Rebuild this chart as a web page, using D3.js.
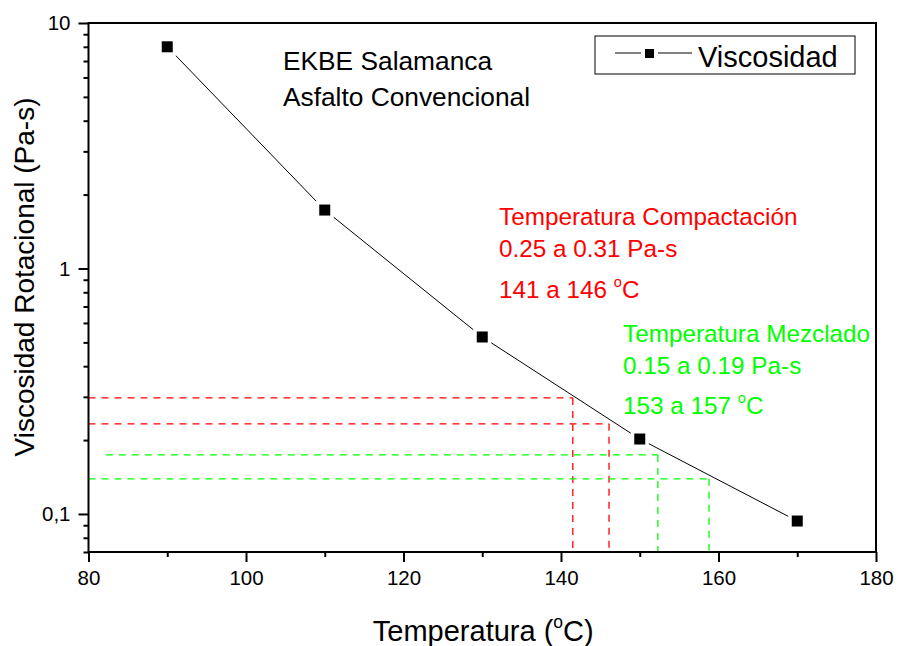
<!DOCTYPE html>
<html>
<head>
<meta charset="utf-8">
<script src="https://cdn.jsdelivr.net/npm/d3@7"></script>
<style>
  body { margin: 0; background: #fff; }
  svg text { font-family: "Liberation Sans", Arial, sans-serif; }
  .axis path { display: none; }
  .axis line { stroke: #000; stroke-width: 2; }
  .axis text { font-size: 20.5px; fill: #000; }
</style>
</head>
<body>
<div id="chart"></div>
<script>
// data
const temps = [90, 110, 130, 150, 170];
const visc = [8.0, 1.73, 0.526, 0.202, 0.0936];

// dashed guide lines (compaction = red, mixing = green)
const compactVisc = [0.297, 0.233];
const compactTemp = [141.5, 146.1];
const compactStart = [80, 80];
const mixVisc = [0.174, 0.139];
const mixTemp = [152.3, 158.8];
const mixStart = [82.2, 80];

const xMajor = [80, 100, 120, 140, 160, 180];
const xMinor = [90, 110, 130, 150, 170];
const yMajor = [10, 1, 0.1];
const yMajorLabels = ["10", "1", "0,1"];

const W = 898, H = 646;
const margin = {top: 23, right: 22, bottom: 94, left: 88.5};
const width = W - margin.left - margin.right;
const height = H - margin.top - margin.bottom;

const svg = d3.select("#chart").append("svg")
    .attr("width", W)
    .attr("height", H);

const g = svg.append("g")
    .attr("transform", "translate(" + margin.left + "," + margin.top + ")");

const x = d3.scaleLinear().domain([80, 180]).range([0, width]);
const y = d3.scaleLog().domain([0.07, 10]).range([height, 0]);

// minor y ticks 2..9 of every decade
let yMinor = [];
[0.01, 0.1, 1].forEach(function(dec) {
    for (let k = 2; k <= 9; k++) {
        let v = +(k * dec).toPrecision(3);
        if (v >= 0.07 && v <= 10) yMinor.push(v);
    }
});

// axes
g.append("g").attr("class", "axis")
    .attr("transform", "translate(0," + height + ")")
    .call(d3.axisBottom(x).tickValues(xMinor).tickSize(5).tickFormat(""));
g.append("g").attr("class", "axis")
    .attr("transform", "translate(0," + height + ")")
    .call(d3.axisBottom(x).tickValues(xMajor).tickSize(10).tickPadding(8).tickFormat(d3.format("d")));

g.append("g").attr("class", "axis")
    .call(d3.axisLeft(y).tickValues(yMinor).tickSize(5).tickFormat(""));
g.append("g").attr("class", "axis")
    .call(d3.axisLeft(y).tickValues(yMajor).tickSize(10).tickPadding(8)
        .tickFormat(function(d, i) { return yMajorLabels[i]; }));

// guide lines
function guides(vs, ts, starts, color) {
    vs.forEach(function(v, i) {
        g.append("line")
            .attr("x1", x(starts[i])).attr("x2", x(ts[i]))
            .attr("y1", y(v)).attr("y2", y(v))
            .attr("stroke", color).attr("stroke-width", 1.3)
            .attr("stroke-dasharray", "7,6");
        g.append("line")
            .attr("x1", x(ts[i])).attr("x2", x(ts[i]))
            .attr("y1", y(v)).attr("y2", height)
            .attr("stroke", color).attr("stroke-width", 1.3)
            .attr("stroke-dasharray", "7,6");
    });
}
guides(compactVisc, compactTemp, compactStart, "#ff0000");
guides(mixVisc, mixTemp, mixStart, "#00ff00");

// data line
const pts = temps.map(function(t, i) { return {t: t, v: visc[i]}; });
g.append("path")
    .datum(pts)
    .attr("fill", "none")
    .attr("stroke", "#000")
    .attr("stroke-width", 1)
    .attr("d", d3.line().x(function(d) { return x(d.t); }).y(function(d) { return y(d.v); }));

// white halo gives the gap between line and marker
g.selectAll(".halo").data(pts).enter().append("rect")
    .attr("class", "halo")
    .attr("x", function(d) { return x(d.t) - 9; })
    .attr("y", function(d) { return y(d.v) - 9; })
    .attr("width", 18).attr("height", 18)
    .attr("fill", "#fff");
g.selectAll(".mark").data(pts).enter().append("rect")
    .attr("class", "mark")
    .attr("x", function(d) { return x(d.t) - 5.5; })
    .attr("y", function(d) { return y(d.v) - 5.5; })
    .attr("width", 11).attr("height", 11)
    .attr("fill", "#000");

// frame
g.append("rect")
    .attr("width", width).attr("height", height)
    .attr("fill", "none").attr("stroke", "#000").attr("stroke-width", 2);

// legend
const leg = svg.append("g").attr("transform", "translate(595,36)");
leg.append("rect").attr("width", 260).attr("height", 38)
    .attr("fill", "#fff").attr("stroke", "#000").attr("stroke-width", 1);
leg.append("line").attr("x1", 20).attr("x2", 97).attr("y1", 17).attr("y2", 17)
    .attr("stroke", "#000").attr("stroke-width", 1);
leg.append("rect").attr("x", 46).attr("y", 10).attr("width", 17).attr("height", 14).attr("fill", "#fff");
leg.append("rect").attr("x", 50).attr("y", 13).attr("width", 9).attr("height", 9).attr("fill", "#000");
leg.append("text").attr("x", 103).attr("y", 31)
    .style("font-size", "29px").text("Viscosidad");

// annotations
svg.append("text").attr("x", 283).attr("y", 70).style("font-size", "26.3px").text("EKBE Salamanca");
svg.append("text").attr("x", 283).attr("y", 106).style("font-size", "26.3px").text("Asfalto Convencional");

function note(x0, ys, lines, color) {
    lines.forEach(function(s, i) {
        let t = svg.append("text").attr("x", x0).attr("y", ys[i])
            .attr("fill", color).style("font-size", "24.3px");
        if (s.indexOf("°") >= 0) {
            let parts = s.split("°");
            t.append("tspan").text(parts[0]);
            t.append("tspan").attr("dy", -11).style("font-size", "14.5px").text("o");
            t.append("tspan").attr("dy", 11).text(parts[1]);
        } else {
            t.text(s);
        }
    });
}
note(499, [225, 257, 298], ["Temperatura Compactación", "0.25 a 0.31 Pa-s", "141 a 146 °C"], "#ff0000");
note(623, [342, 374, 414], ["Temperatura Mezclado", "0.15 a 0.19 Pa-s", "153 a 157 °C"], "#00ff00");

// axis titles
const xt = svg.append("text")
    .attr("x", margin.left + width / 2 + 1).attr("y", 641)
    .attr("text-anchor", "middle").style("font-size", "29px");
xt.append("tspan").text("Temperatura (");
xt.append("tspan").attr("dy", -13).style("font-size", "17.5px").text("o");
xt.append("tspan").attr("dy", 13).text("C)");

svg.append("text")
    .attr("transform", "translate(34,277) rotate(-90)")
    .attr("text-anchor", "middle").style("font-size", "28px")
    .text("Viscosidad Rotacional (Pa-s)");
</script>
</body>
</html>
